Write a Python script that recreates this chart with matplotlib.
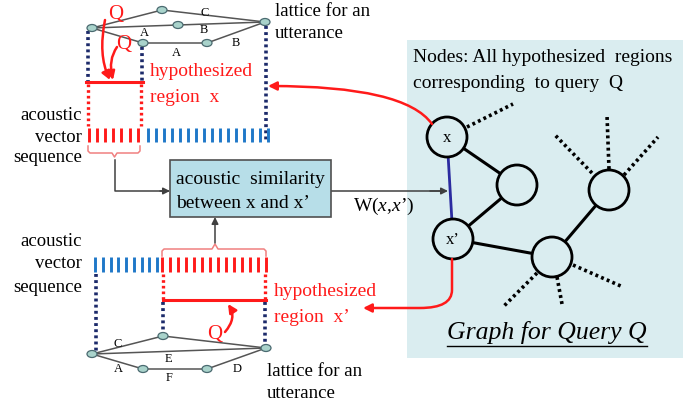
import matplotlib
matplotlib.use("Agg")
import matplotlib.pyplot as plt
from matplotlib.patches import Circle, Ellipse, Rectangle, FancyArrowPatch, PathPatch
from matplotlib.path import Path

plt.rcParams["mathtext.fontset"] = "custom"
plt.rcParams["mathtext.rm"] = "Liberation Serif"
plt.rcParams["mathtext.it"] = "Liberation Serif:italic"

# ---------------- diagram content ----------------
SERIF = "Liberation Serif"
RED = "#ff1a1a"
BLUE = "#1f78c8"
NAVY = "#1c2a6a"
GRAY = "#404040"

# top lattice (nodes, edges, edge labels)
top_nodes = {"L": (92, 28), "T": (162, 10), "M": (178, 25), "R": (265, 22),
             "A1": (143, 43), "A2": (207, 43)}
top_edges = [("L", "T"), ("T", "R"), ("L", "M"), ("M", "R"),
             ("L", "A1"), ("A1", "A2"), ("A2", "R")]
top_labels = [("C", 205, 13), ("B", 204, 30), ("A", 144, 33), ("A", 176, 53), ("B", 236, 43)]

# bottom lattice
bot_nodes = {"L": (92, 354), "T": (163, 336), "R": (266, 348),
             "A1": (143, 369), "A2": (207, 369)}
bot_edges = [("L", "T"), ("T", "R"), ("L", "R"), ("L", "A1"), ("A1", "A2"), ("A2", "R")]
bot_labels = [("C", 118, 344), ("E", 168, 359), ("A", 118, 369), ("F", 169, 378), ("D", 237, 369)]

# acoustic vector sequences: (start, pitch, count)
top_red_bars = (89, 8.1, 7)
top_blue_bars = (148, 8.0, 16)
bot_blue_bars = (95, 7.75, 9)
bot_red_bars = (162, 8.0, 14)

# query graph
graph_nodes = {"x": (447, 137), "n2": (517, 185), "xp": (453, 239),
               "n4": (552, 257), "n5": (609, 190)}
graph_node_labels = {"x": "x", "xp": "x\u2019"}
graph_edges = [("x", "n2"), ("n2", "xp"), ("xp", "n4"), ("n4", "n5")]
graph_dotted = [((467, 127), (513, 104)), ((609, 169), (607, 115)),
                ((592, 173), (555, 135)), ((624, 175), (658, 137)),
                ((537, 273), (503, 307)), ((557, 277), (562, 304)),
                ((573, 265), (623, 287))]

# ---------------- drawing ----------------
fig = plt.figure(figsize=(6.92, 4.05), dpi=100)
ax = fig.add_axes([0, 0, 1, 1])
ax.set_xlim(0, 692)
ax.set_ylim(405, 0)
ax.axis("off")


def txt(x, y, s, size=14, color="black", ha="left", va="center", **kw):
    ax.text(x, y, s, fontsize=size, color=color, ha=ha, va=va, family=SERIF, **kw)


def dotted(x0, y0, x1, y1, color=NAVY, lw=2.6):
    ax.plot([x0, x1], [y0, y1], color=color, lw=lw, linestyle=(0, (0.8, 0.9)),
            solid_capstyle="butt", dash_capstyle="butt")


def lattice(nodes, edges, labels):
    for a, b in edges:
        (x0, y0), (x1, y1) = nodes[a], nodes[b]
        ax.plot([x0, x1], [y0, y1], color="#555555", lw=1.1, zorder=2)
    for (x, y) in nodes.values():
        ax.add_patch(Ellipse((x, y), 10, 7, facecolor="#a9d3cb", edgecolor="#4a6a70",
                             lw=0.9, zorder=3))
    for s, x, y in labels:
        txt(x, y, s, size=9, ha="center")


def bars(spec, color, y0, y1):
    start, pitch, n = spec
    for i in range(n):
        x = start + i * pitch
        ax.plot([x, x], [y0, y1], color=color, lw=2.1, solid_capstyle="butt")


def curve(points, codes, color=RED, lw=1.8, arrow=True):
    path = Path(points, codes)
    if arrow:
        ax.add_patch(FancyArrowPatch(path=path, arrowstyle="-|>,head_length=5,head_width=2.5",
                                     color=color, lw=lw, zorder=5))
    else:
        ax.add_patch(PathPatch(path, facecolor="none", edgecolor=color, lw=lw, zorder=5))


def arrow(p0, p1, color=GRAY, lw=1.1):
    ax.add_patch(FancyArrowPatch(p0, p1, arrowstyle="-|>,head_length=4,head_width=2",
                                 color=color, lw=lw, shrinkA=0, shrinkB=0, zorder=4))


# graph panel background
ax.add_patch(Rectangle((407, 40), 276, 318, facecolor="#daedf0", edgecolor="none", zorder=0))

# ---- top part ----
lattice(top_nodes, top_edges, top_labels)
dotted(88, 31, 88, 82)
dotted(142, 47, 142, 82)
dotted(266, 26, 266, 140)
ax.plot([86, 143], [82, 82], color=RED, lw=2.2)
dotted(88, 84, 88, 126, color=RED, lw=2.4)
dotted(141, 84, 141, 126, color=RED, lw=2.4)
bars(top_red_bars, RED, 128, 142)
bars(top_blue_bars, BLUE, 128, 142)
txt(116, 15, "Q", size=15, color=RED, ha="center")
txt(124, 44, "Q", size=15, color=RED, ha="center")
M, C, L = Path.MOVETO, Path.CURVE3, Path.LINETO
curve([(105, 20), (98, 55), (110, 80)], [M, C, C])
curve([(117, 47), (108, 60), (113, 80)], [M, C, C])
txt(150, 71, "hypothesized", color=RED)
txt(150, 97, "region  x", color=RED)
txt(82, 116, "acoustic", size=13.5, ha="right")
txt(82, 137, "vector", size=13.5, ha="right")
txt(82, 158, "sequence", size=13.5, ha="right")
txt(275, 12, "lattice for an", size=13.5)
txt(275, 33, "utterance", size=13.5)

# top brace
ax.plot([88, 88, 90, 112, 114.5, 117, 138, 140, 140],
        [146, 151, 153, 153, 157, 153, 153, 151, 146], color="#f08080", lw=1.1)
ax.plot([114.5, 114.5, 168], [160, 191, 191], color=GRAY, lw=1.1)
arrow((160, 191), (170, 191))

# similarity box
ax.add_patch(Rectangle((170, 160), 161, 57, facecolor="#b7dee8", edgecolor="#505050",
                       lw=1.2, zorder=3))
txt(176, 179, "acoustic  similarity", zorder=4)
txt(176, 204, "between x and x\u2019", zorder=4)
ax.plot([331, 440], [191, 191], color=GRAY, lw=1.1)
arrow((430, 191), (448, 191))
txt(353, 206, "W($x$,$x$\u2019)")

# ---- bottom part ----
ax.plot([162, 162, 164, 212, 215, 218, 264, 266, 266],
        [256, 251, 249, 249, 244, 249, 249, 251, 256], color="#f08080", lw=1.1)
arrow((215, 243), (215, 217))
bars(bot_blue_bars, BLUE, 257, 272)
bars(bot_red_bars, RED, 257, 272)
dotted(163, 274, 163, 299, color=RED, lw=2.4)
dotted(265, 274, 265, 299, color=RED, lw=2.4)
ax.plot([163, 266], [300, 300], color=RED, lw=2.2)
dotted(96, 274, 96, 351)
dotted(163, 302, 163, 333)
dotted(265, 302, 265, 345)
lattice(bot_nodes, bot_edges, bot_labels)
txt(82, 242, "acoustic", size=13.5, ha="right")
txt(82, 264, "vector", size=13.5, ha="right")
txt(82, 287, "sequence", size=13.5, ha="right")
txt(215, 335, "Q", size=15, color=RED, ha="center")
curve([(225, 332), (237, 318), (228, 304)], [M, C, C])
txt(274, 292, "hypothesized", color=RED)
txt(274, 318, "region  x\u2019", color=RED)
txt(267, 372, "lattice for an", size=13.5)
txt(267, 394, "utterance", size=13.5)

# ---- graph ----
for a, b in graph_edges:
    (x0, y0), (x1, y1) = graph_nodes[a], graph_nodes[b]
    ax.plot([x0, x1], [y0, y1], color="black", lw=2.2, zorder=2)
(x0, y0), (x1, y1) = graph_nodes["x"], graph_nodes["xp"]
ax.plot([x0, x1], [y0, y1], color="#2b2ba0", lw=2.0, zorder=2)
for (p0, p1) in graph_dotted:
    dotted(p0[0], p0[1], p1[0], p1[1], color="black", lw=2.6)
for k, (x, y) in graph_nodes.items():
    ax.add_patch(Circle((x, y), 20, facecolor="#daedf0", edgecolor="black", lw=2.0, zorder=3))
    if k in graph_node_labels:
        txt(x, y + 1, graph_node_labels[k], size=12, ha="center", zorder=4)

txt(413, 57, "Nodes: All hypothesized  regions")
txt(413, 83, "corresponding  to query  Q")
ax.text(547, 333, "Graph for Query Q", fontsize=18.5, family=SERIF, style="italic",
        ha="center", va="center")
ax.plot([447, 647], [346, 346], color="black", lw=1.0)

# red arrows from graph nodes to regions
curve([(432, 124), (405, 86), (268, 86)], [M, C, C])
curve([(452, 259), (452, 290), (452, 308), (420, 308), (363, 308)], [M, L, C, C, L])

fig.savefig("out.png", dpi=100)
